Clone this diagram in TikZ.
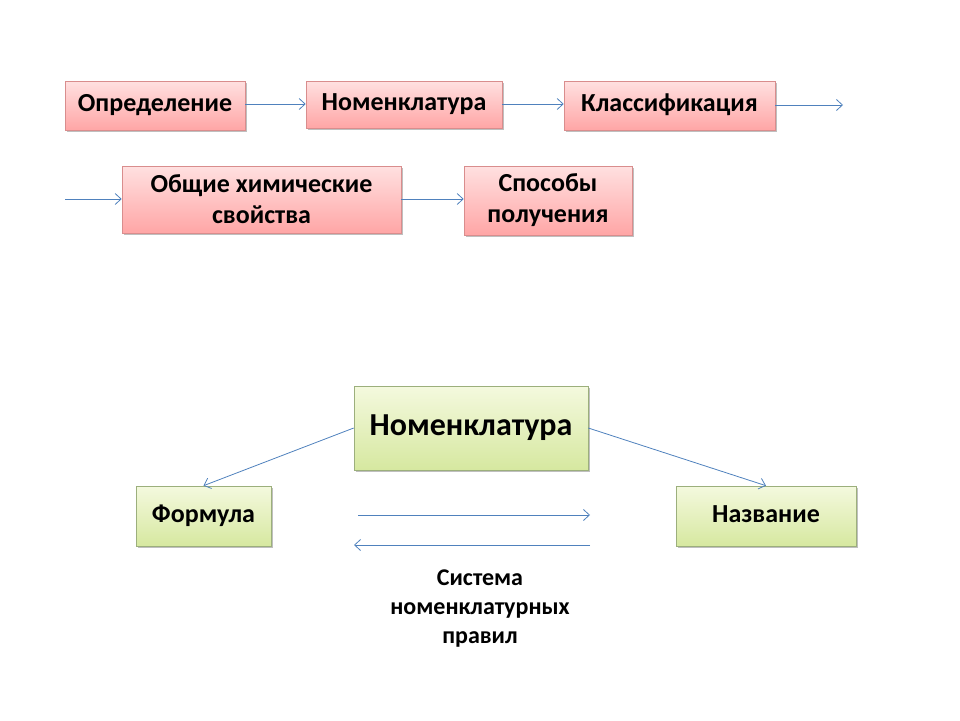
\documentclass[tikz,border=0pt]{standalone}
\usepackage{fontspec}
\setmainfont{Carlito}
\usetikzlibrary{arrows.meta,shadows}
\definecolor{arr}{HTML}{4F81BD}
\tikzset{x=1pt,y=-1pt,
 pinkbox/.style={draw=red!35!white!85!black,line width=0.6pt,top color=red!12,bottom color=red!35,drop shadow={shadow xshift=1.5pt,shadow yshift=-1.5pt,fill=black!50},align=center,font=\bfseries\fontsize{26}{31}\selectfont,inner sep=0pt},
 greenbox/.style={draw=olive!50!green!45!white!80!black,line width=0.6pt,top color={rgb,255:red,244;green,249;blue,222},bottom color={rgb,255:red,214;green,232;blue,160},drop shadow={shadow xshift=1.5pt,shadow yshift=-1.5pt,fill=black!50},align=center,font=\bfseries\fontsize{26}{31}\selectfont,inner sep=0pt},
 oneline/.style={text height=17pt,text depth=5pt},
 bigline/.style={text height=21pt,text depth=6pt},
 conn/.style={draw=arr,line width=0.8pt,-{Straight Barb[length=6pt,width=11pt]}}}
\begin{document}
\begin{tikzpicture}
\useasboundingbox (0,0) rectangle (960,720);
\node[pinkbox,oneline,minimum width=180,minimum height=49] (a) at (155,105.5) {Определение};
\node[pinkbox,oneline,minimum width=196,minimum height=47] (b) at (404,104.5) {Номенклатура};
\node[pinkbox,oneline,minimum width=211,minimum height=49] (c) at (669.5,105.5) {Классификация};
\node[pinkbox,minimum width=279,minimum height=67] (d) at (261.5,199.5) {Общие химические\\свойства};
\node[pinkbox,minimum width=168,minimum height=69] (e) at (548,200.5) {Способы\\получения};
\coordinate (cend) at (843,105);
\coordinate (dstart) at (65,199);
\draw[conn] (a.east |- 0,104) -- (b.west |- 0,104);
\draw[conn] (b.east |- 0,104) -- (c.west |- 0,104);
\draw[conn] (c.east |- cend) -- (cend);
\draw[conn] (dstart) -- (d.west |- dstart);
\draw[conn] (d.east |- 0,199) -- (e.west |- 0,199);
\node[greenbox,bigline,minimum width=234,minimum height=84,font=\bfseries\fontsize{32}{38}\selectfont] (n) at (471,428) {Номенклатура};
\node[greenbox,oneline,minimum width=135,minimum height=60] (f) at (203.5,516) {Формула};
\node[greenbox,oneline,minimum width=180,minimum height=60] (g) at (766,516) {Название};
\draw[conn] (n.west) -- (f.north);
\draw[conn] (n.east) -- (g.north);
\coordinate (h1) at (358,515); \coordinate (h2) at (590,515);
\coordinate (h3) at (590,545); \coordinate (h4) at (354,545);
\draw[conn] (h1) -- (h2);
\draw[conn] (h3) -- (h4);
\node[align=center,font=\bfseries\fontsize{24}{29}\selectfont] (t) at (480,609) {Система\\номенклатурных\\правил};
\end{tikzpicture}
\end{document}
